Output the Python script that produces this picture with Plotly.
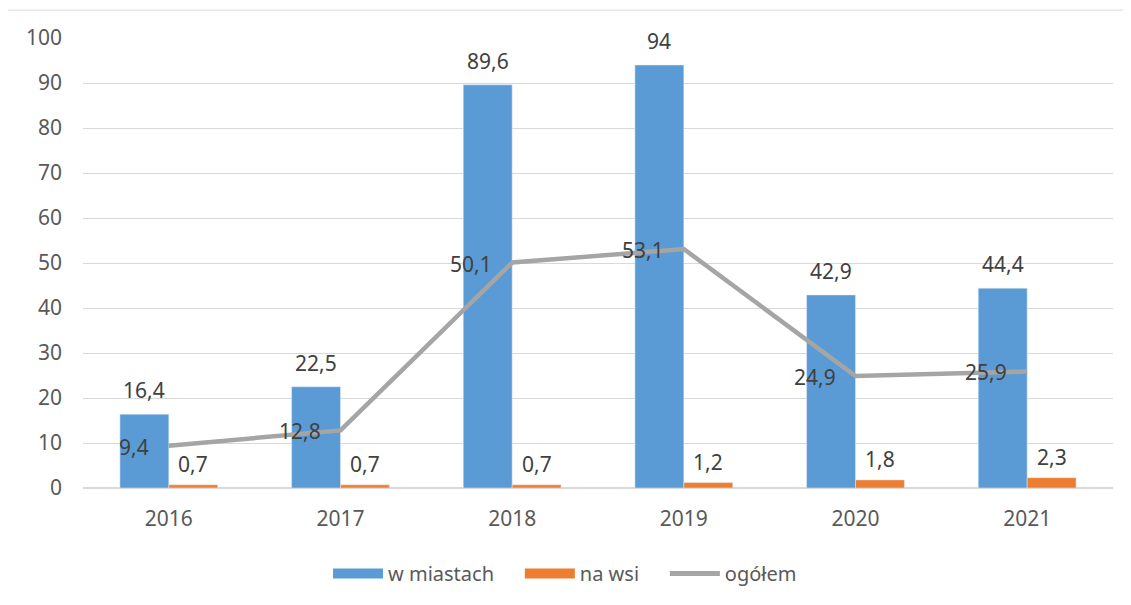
import plotly.graph_objects as go

years = ["2016", "2017", "2018", "2019", "2020", "2021"]
w_miastach = [16.4, 22.5, 89.6, 94, 42.9, 44.4]
na_wsi = [0.7, 0.7, 0.7, 1.2, 1.8, 2.3]
ogolem = [9.4, 12.8, 50.1, 53.1, 24.9, 25.9]
series_names = ["w miastach", "na wsi", "ogółem"]

BLUE, ORANGE, GREY = "#5B9BD5", "#ED7D31", "#A5A5A5"

def fmt(v):
    return ("%g" % v).replace(".", ",")

FONT = "Noto Sans"
FS = 21
LBL = dict(family=FONT, size=FS, color="#404040")

fig = go.Figure()
fig.add_trace(go.Bar(x=years, y=w_miastach, name=series_names[0], marker_color=BLUE,
                     showlegend=False))
fig.add_trace(go.Bar(x=years, y=na_wsi, name=series_names[1], marker_color=ORANGE,
                     showlegend=False))
fig.add_trace(go.Scatter(x=years, y=ogolem, name=series_names[2], mode="lines",
                         line=dict(color=GREY, width=4.5), showlegend=False))

# legend-only entries (wide swatches like the original)
PAD = "\u00a0" * 4
for nm, col, w, pad in [(series_names[0], BLUE, 12, PAD), (series_names[1], ORANGE, 12, PAD),
                        (series_names[2], GREY, 5, "")]:
    fig.add_trace(go.Scatter(x=[None], y=[None], name=nm + pad, mode="lines",
                             line=dict(color=col, width=w)))

# pixel offset of each bar in a group
W_PLOT = 1030
cat_px = W_PLOT / len(years)
BARGAP = 0.43
half = (1 - BARGAP) * cat_px / 4

ann = []
for i, v in enumerate(w_miastach):
    ann.append(dict(x=i, y=v, text=fmt(v), showarrow=False, xshift=-half,
                    yanchor="bottom", yshift=8, font=LBL))
for i, v in enumerate(na_wsi):
    ann.append(dict(x=i, y=v, text=fmt(v), showarrow=False, xshift=half,
                    yanchor="bottom", yshift=5, font=LBL))
for i, v in enumerate(ogolem):
    ann.append(dict(x=i, y=v, text=fmt(v), showarrow=False, xanchor="right",
                    xshift=-18, yanchor="middle", yshift=-1, font=LBL))

# page body has an 8px margin -> compensate
fig.update_layout(
    width=1123, height=597,
    margin=dict(l=75, r=18, t=30, b=115),
    paper_bgcolor="white", plot_bgcolor="white",
    barmode="group", bargap=BARGAP, bargroupgap=0,
    font=dict(family=FONT, size=FS, color="#595959"),
    showlegend=True,
    legend=dict(orientation="h", x=0.468, xanchor="center", y=-0.19, yanchor="middle",
                font=dict(family=FONT, size=20, color="#595959"), itemwidth=50,
                traceorder="normal"),
    xaxis=dict(type="category", range=[-0.5, len(years) - 0.5], showgrid=False,
               showline=True, linecolor="#D9D9D9", linewidth=1,
               ticks="", tickfont=dict(size=FS, color="#595959"), ticklabelstandoff=12),
    yaxis=dict(range=[0, 100], dtick=10, showgrid=True, gridcolor="#D9D9D9", gridwidth=1,
               zeroline=True, zerolinecolor="#D9D9D9", showline=False,
               ticks="", tickfont=dict(size=FS, color="#595959"), ticklabelstandoff=20),
    annotations=ann,
    shapes=[dict(type="rect", xref="paper", yref="paper",
                 x0=-0.0738, x1=1.03, y0=-0.27, y1=1.062,
                 line=dict(color="#D9D9D9", width=1), fillcolor="rgba(0,0,0,0)", layer="below")],
)

fig.write_html("out.html")
